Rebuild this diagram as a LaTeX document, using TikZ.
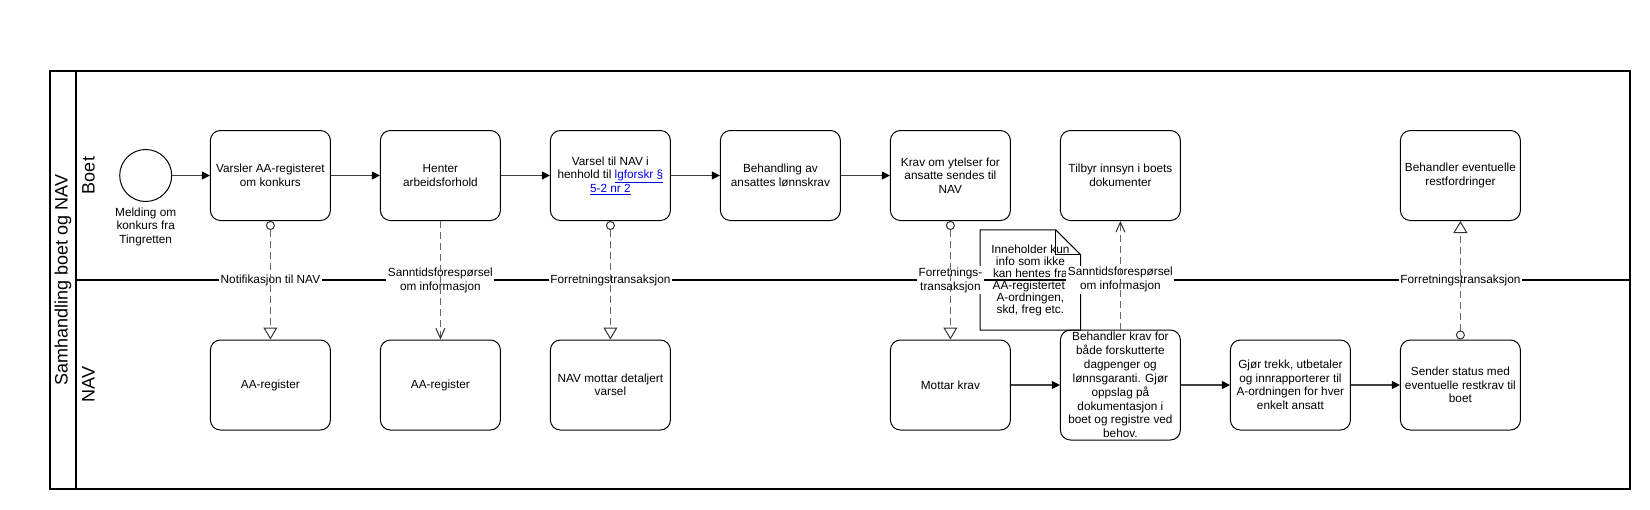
\documentclass[tikz,border=0pt]{standalone}
\usepackage{fontspec}
\setmainfont{Liberation Sans}
\usetikzlibrary{arrows.meta}
\usetikzlibrary{positioning}
\definecolor{flowgray}{HTML}{666666}
\definecolor{linkblue}{HTML}{0000EE}
\newcommand{\lenke}[1]{\textcolor{linkblue}{\underline{#1}}}
\tikzset{task/.style={draw, rounded corners=10pt, line width=1pt, minimum width=120pt, minimum height=90pt, align=center, font=\fontsize{11.8}{13.5}\selectfont}}
\tikzset{startevent/.style={circle, draw, line width=1pt, minimum size=52pt, inner sep=0pt}}
\tikzset{seqflow/.style={draw=black!75, line width=1.1pt, -{Triangle[length=8pt, width=8pt, color=black]}}}
\tikzset{msgflow/.style={draw=flowgray, line width=1.6pt, dash pattern=on 7pt off 4pt, {Circle[length=9pt, width=9pt, fill=white, color=black!80, line width=1pt]}-{Triangle[length=12pt, width=14pt, fill=white, color=black!80, line width=1pt]}}}
\tikzset{reqflow/.style={draw=flowgray, line width=1.6pt, dash pattern=on 7pt off 4pt, -{Straight Barb[length=10pt, width=9pt, color=black!80, line width=1pt]}}}
\tikzset{flowlabel/.style={fill=white, inner sep=1.5pt, align=center, font=\fontsize{11.8}{14}\selectfont}}
\tikzset{lanelabel/.style={rotate=90, inner sep=0pt, font=\fontsize{18}{20}\selectfont}}
\tikzset{notebox/.style={minimum width=100pt, minimum height=100pt, inner sep=0pt, align=center, font=\fontsize{11.8}{12}\selectfont}}

\begin{document}
\begin{tikzpicture}[x=1pt,y=-1pt]
  \useasboundingbox (0,0) rectangle (1650,509);
  % pool og baner
  \draw[line width=2pt] (49.5,70.5) rectangle (1630,489);
  \draw[line width=2pt] (75.7,70.5) -- (75.7,489);
  \draw[line width=2pt] (75.7,280) -- (1630,280);
  \node[lanelabel] (pool) at (63,280) {Samhandling boet og NAV};
  \node[lanelabel] (boetlane) at (88.5,175.5) {Boet};
  \node[lanelabel] (navlane) at (88.5,384.5) {NAV};

  % boet
  \node[startevent] (start) at (145.7,175.5) {};
  \node[below=2pt of start, align=center, font=\fontsize{11.8}{13.5}\selectfont] (startlab) {Melding om\\konkurs fra\\Tingretten};
  \foreach \x/\name/\lab in {
    270.4/varsler/{Varsler AA-registeret\\om konkurs},
    440.4/henter/{Henter\\arbeidsforhold},
    610.4/varsel/{Varsel til NAV i\\henhold til \lenke{lgforskr §}\\\lenke{5-2 nr 2}},
    780.4/behandling/{Behandling av\\ansattes lønnskrav},
    950.4/kravsendes/{Krav om ytelser for\\ansatte sendes til\\NAV},
    1120.4/innsyn/{Tilbyr innsyn i boets\\dokumenter},
    1460.4/restford/{Behandler eventuelle\\restfordringer}%
  } {
    \node[task] (\name) at (\x, 175.5) {\lab};
  }

  % nav
  \foreach \x/\name/\lab in {
    270.4/aaregA/{AA-register},
    440.4/aaregB/{AA-register},
    610.4/navmottar/{NAV mottar detaljert\\varsel},
    950.4/mottar/{Mottar krav},
    1290.4/trekk/{Gjør trekk, utbetaler\\og innrapporterer til\\A-ordningen for hver\\enkelt ansatt},
    1460.4/status/{Sender status med\\eventuelle restkrav til\\boet}%
  } {
    \node[task] (\name) at (\x, 385) {\lab};
  }
  \node[task, minimum height=110pt, inner sep=0pt, font=\fontsize{11.8}{13.9}\selectfont] (behkrav) at (1120.4,385) {Behandler krav for\\både forskutterte\\dagpenger og\\lønnsgaranti. Gjør\\oppslag på\\dokumentasjon i\\boet og registre ved\\behov.};

  % notat
  \node[notebox] (note) at (1030.4,280) {Inneholder kun\\info som ikke\\kan hentes fra\\AA-registertet,\\A-ordningen,\\skd, freg etc.};
  \draw[line width=1pt] (note.south west) -- (note.north west) -- ([xshift=-25pt]note.north east)
    -- ([yshift=-25pt]note.north east) -- (note.south east) -- cycle;
  \draw[line width=1pt] ([xshift=-25pt]note.north east) -- ([xshift=-25pt, yshift=-25pt]note.north east)
    -- ([yshift=-25pt]note.north east);

  % sekvensflyt
  \foreach \u/\v in {
    start/varsler,
    varsler/henter,
    henter/varsel,
    varsel/behandling,
    behandling/kravsendes,
    mottar/behkrav,
    behkrav/trekk,
    trekk/status%
  }{
    \draw[seqflow] (\u) -- (\v);
  }

  % meldingsflyt
  \draw[msgflow] (varsler) -- node[flowlabel, behind path] {Notifikasjon til NAV} (aaregA);
  \draw[reqflow] (henter) -- node[flowlabel, behind path] {Sanntidsforespørsel\\om informasjon} (aaregB);
  \draw[msgflow] (varsel) -- node[flowlabel, behind path] {Forretningstransaksjon} (navmottar);
  \draw[msgflow] (kravsendes) -- node[flowlabel, behind path] {Forretnings-\\transaksjon} (mottar);
  \draw[reqflow] (behkrav) -- node[flowlabel, behind path, pos=0.46] {Sanntidsforespørsel\\om informasjon} (innsyn);
  \draw[msgflow] (status) -- node[flowlabel, behind path] {Forretningstransaksjon} (restford);
\end{tikzpicture}
\end{document}
